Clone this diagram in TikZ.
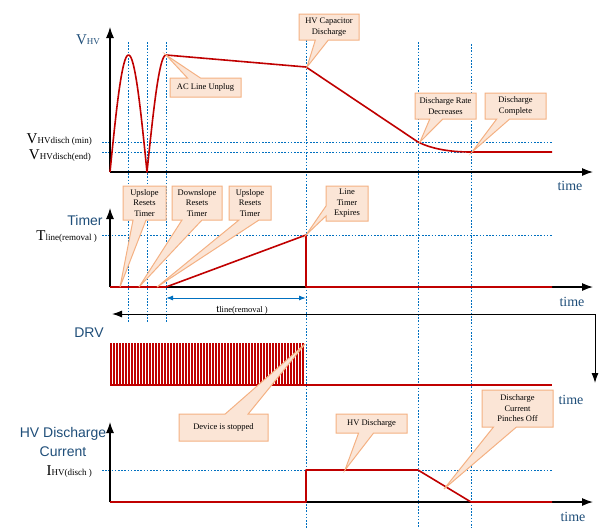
\documentclass[tikz,border=0pt]{standalone}
\usepackage{fontspec}
\setmainfont{Liberation Serif}
\newfontfamily\labsans{Liberation Sans}
\usetikzlibrary{arrows.meta,shapes.callouts}
\definecolor{wavered}{HTML}{C00000}
\definecolor{gridblue}{HTML}{0070C0}
\definecolor{noteline}{HTML}{F4B183}
\definecolor{notefill}{HTML}{FBE5D6}
\definecolor{axlabel}{HTML}{1F4E79}
\newcommand{\siglab}[2]{{\fontsize{15}{15}\selectfont #1}{\fontsize{9}{9}\selectfont #2}}
\tikzset{
  wave/.style={color=wavered,line width=1.6pt,line join=round},
  pulse/.style={color=wavered,line width=0.8pt},
  gridline/.style={color=gridblue,line width=0.9pt,dash pattern=on 1.6pt off 1.6pt},
  axis/.style={line width=1.2pt,-{Latex[length=11pt,width=8pt]}},
  note/.style={rectangle callout,draw=noteline,fill=notefill,line width=1pt,
    font=\fontsize{8.5}{10.5}\selectfont,align=center,inner sep=1pt,
    callout pointer width=13pt},
  tlabel/.style={color=axlabel,font=\fontsize{14}{14}\selectfont,inner sep=0pt},
  slabel/.style={color=axlabel,font=\labsans\fontsize{14}{19}\selectfont,inner sep=0pt},
  sig/.style={anchor=base east,inner sep=0pt}
}
\begin{document}
\begin{tikzpicture}[x=1pt,y=-1pt]
    \useasboundingbox (0,0) rectangle (599,528);
    % dotted guides
    \foreach \gx in {128,147,166} \draw[gridline] (\gx,42) -- (\gx,323);
    \foreach \gx/\gy in {306/40,418/42,471/44} \draw[gridline] (\gx,\gy) -- (\gx,528);
    \foreach \gy in {142,152,235,470} \draw[gridline] (102,\gy) -- (552,\gy);
    % axes
    \draw[axis] (110,172) -- (593,172);
    \draw[axis] (110,172) -- (110,27);
    \draw[axis] (110,287) -- (593,287);
    \draw[axis] (110,287) -- (110,208);
    \draw[axis] (110,502) -- (593,502);
    \draw[axis] (110,502) -- (110,422);
    % V_HV
    \draw[wave] plot[domain=0:180,samples=50] ({110+37*\x/180},{172-117*sin(\x)})
        -- plot[domain=0:90,samples=30] ({147+19*\x/90},{172-117*sin(\x)})
        -- (306,67) -- (418,142) .. controls (432,149) and (450,152) .. (471,152) -- (552,152);
    % timer
    \draw[wave] (110,287) -- (166,287) -- (306,235) -- (306,287) -- (552,287);
    % DRV
    \foreach \i in {0,...,64} \draw[pulse] ({110+3*\i},385) -- ++(0,-42) -- ++(1.5,0) -- ++(0,42);
    \draw[wave] (110,385) -- (552,385);
    % discharge current
    \draw[wave] (110,502) -- (306,502) -- (306,470) -- (418,470) -- (471,502) -- (552,502);
    % labels
    \node[tlabel,anchor=base] (vhvlab) at (88,44) {\siglab{V}{HV}};
    \node[sig] (vminlab) at (92,143) {\siglab{V}{HVdisch (min)}};
    \node[sig] (vendlab) at (91,159) {\siglab{V}{HVdisch(end)}};
    \node[slabel] (timerlab) at (85,220) {Timer};
    \node[sig] (tremlab) at (97,240) {\siglab{T}{line(removal )}};
    \node[inner sep=0pt] (tdurlab) at (242,310) {{\fontsize{11}{11}\selectfont t}{\fontsize{8.5}{8.5}\selectfont line(removal )}};
    \node[slabel] (drvlab) at (89,333) {DRV};
    \node[slabel,align=center] (ihvlab) at (63,442) {HV Discharge\\Current};
    \node[sig] (ihvval) at (92,475) {\siglab{I}{HV(disch )}};
    \node[tlabel] (time1) at (570,186) {time};
    \node[tlabel] (time2) at (572,302) {time};
    \node[tlabel] (time3) at (571,400) {time};
    \node[tlabel] (time4) at (573,517) {time};
    % spans
    \coordinate (tsA) at (166,298);
    \coordinate (tsB) at (306,298);
    \draw[gridblue,line width=1pt,{Latex[length=7pt,width=5pt]}-{Latex[length=7pt,width=5pt]}] (tsA) -- (tsB);
    \coordinate (brA) at (112,314);
    \coordinate (brB) at (595,383);
    \draw[line width=1pt,{Latex[length=10pt,width=7pt]}-{Latex[length=10pt,width=7pt]}] (brA) -| (brB);
    % callouts
    \coordinate (pkac) at (166,55);
    \coordinate (pkcap) at (307,67);
    \coordinate (pkrate) at (420,142);
    \coordinate (pkdone) at (472,152);
    \coordinate (upA) at (120,287);
    \coordinate (dnA) at (139,287);
    \coordinate (upB) at (157,287);
    \coordinate (tmax) at (306,235);
    \coordinate (drvend) at (305,344);
    \coordinate (ihvflat) at (345,470);
    \coordinate (ihvfall) at (444,489);
    \node[note,minimum width=71pt,minimum height=19pt,callout absolute pointer={(pkac)}] (acnote) at (205.5,87.5) {AC Line Unplug};
    \node[note,minimum width=60pt,minimum height=26pt,callout absolute pointer={(pkcap)}] (capnote) at (329,27) {HV Capacitor\\Discharge};
    \node[note,minimum width=61pt,minimum height=26pt,callout absolute pointer={(pkrate)}] (ratenote) at (445.5,106) {Discharge Rate\\Decreases};
    \node[note,minimum width=61pt,minimum height=26pt,callout absolute pointer={(pkdone)}] (donenote) at (515.5,106) {Discharge\\Complete};
    \node[note,minimum width=43pt,minimum height=34pt,callout absolute pointer={(upA)}] (upnoteA) at (144.5,203) {Upslope\\Resets\\Timer};
    \node[note,minimum width=50pt,minimum height=34pt,callout pointer width=20pt,callout absolute pointer={(dnA)}] (dnnote) at (197,203) {Downslope\\Resets\\Timer};
    \node[note,minimum width=42pt,minimum height=34pt,callout pointer width=20pt,callout absolute pointer={(upB)}] (upnoteB) at (250,203) {Upslope\\Resets\\Timer};
    \node[note,minimum width=42pt,minimum height=35pt,callout pointer width=10pt,callout absolute pointer={(tmax)}] (expnote) at (347,203.5) {Line\\Timer\\Expires};
    \node[note,minimum width=89pt,minimum height=27pt,callout pointer width=23pt,callout absolute pointer={(drvend)}] (stopnote) at (223.5,427.5) {Device is stopped};
    \node[note,minimum width=71pt,minimum height=19pt,callout pointer width=15pt,callout absolute pointer={(ihvflat)}] (hvdnote) at (371.5,423.5) {HV Discharge};
    \node[note,minimum width=71pt,minimum height=37pt,callout pointer width=23pt,callout absolute pointer={(ihvfall)}] (pinchnote) at (517.5,408.5) {Discharge\\Current\\Pinches Off};
\end{tikzpicture}
\end{document}
